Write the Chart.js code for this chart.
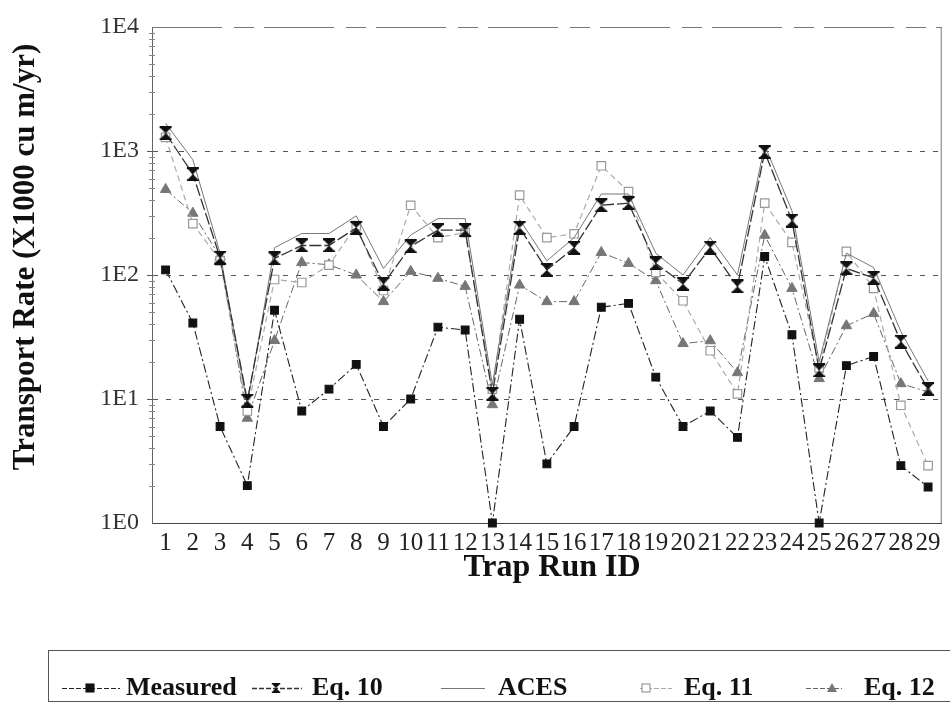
<!DOCTYPE html>
<html>
<head>
<meta charset="utf-8">
<script src="https://cdn.jsdelivr.net/npm/chart.js@4.4.1/dist/chart.umd.min.js"></script>
<style>
html,body{margin:0;padding:0;background:#fff;}
#wrap{width:950px;height:703px;}
</style>
</head>
<body>
<div id="wrap"><canvas id="c" width="950" height="703"></canvas></div>
<script>
const runIds = ['1','2','3','4','5','6','7','8','9','10','11','12','13','14','15','16','17','18','19','20','21','22','23','24','25','26','27','28','29'];
const measured = [110,41,6,2,52,8,12,19,6,10,38,36,1,44,3,6,55,59,15,6,8,4.9,141,33,1,18.6,22,2.9,1.95];
const eq10 = [1390,650,138,9.7,136,173,173,240,85,170,230,230,11,240,110,166,365,380,124,85,166,81,980,275,17,113,95,29,12];
const aces = [1670,850,150,9,166,216,216,300,113,210,285,285,13,280,130,200,450,450,150,100,200,100,1110,330,20,150,115,35,14];
const eq11 = [1290,260,130,8,92,87,120,250,75,365,200,220,12,440,200,215,760,470,105,62,24.5,11,380,183,17.8,155,78,8.9,2.9];
const eq12 = [490,315,140,7,29.6,126,121,100,61,107,94,81,9,83,61,61,152,124,90,28,29.5,16.3,209,78,14.6,39,49,13.3,11.4];
const yTicks = [1,10,100,1000,10000];
const yTickLabels = {1:'1E0',10:'1E1',100:'1E2',1000:'1E3',10000:'1E4'};
const yTitle = 'Transport Rate (X1000 cu m/yr)';
const xTitle = 'Trap Run ID';

function hourglass(){
  const c=document.createElement('canvas');c.width=14;c.height=14;
  const g=c.getContext('2d');g.fillStyle='#111';
  g.fillRect(1,0,12,2);g.fillRect(1,12,12,2);
  g.beginPath();g.moveTo(2,2);g.lineTo(12,2);g.lineTo(7,7);g.closePath();g.fill();
  g.beginPath();g.moveTo(2,12);g.lineTo(12,12);g.lineTo(7,7);g.closePath();g.fill();
  return c;
}
const hg = hourglass();
const SERIF = "'Liberation Serif','DejaVu Serif',serif";

const datasets = [
  {label:'Measured',data:measured,borderColor:'#222',backgroundColor:'#111',borderWidth:1.1,borderDash:[9,3,2,3],
   pointStyle:'rect',pointRadius:5.5,pointBorderColor:'#111',pointBackgroundColor:'#111',order:1},
  {label:'Eq. 10',data:eq10,borderColor:'#333',backgroundColor:'#111',borderWidth:1.3,borderDash:[12,3],
   pointStyle:hg,pointRadius:7,order:2},
  {label:'ACES',data:aces,borderColor:'#777',backgroundColor:'#777',borderWidth:1,borderDash:[],
   pointRadius:0,order:3},
  {label:'Eq. 11',data:eq11,borderColor:'#aaa',backgroundColor:'#fff',borderWidth:1.2,borderDash:[6,4],
   pointStyle:'rect',pointRadius:6,pointBorderColor:'#999',pointBackgroundColor:'#fff',pointBorderWidth:1.2,order:4},
  {label:'Eq. 12',data:eq12,borderColor:'#666',backgroundColor:'#777',borderWidth:1,borderDash:[8,3,2,3],
   pointStyle:'triangle',pointRadius:6,pointBorderColor:'#777',pointBackgroundColor:'#777',order:5}
];
datasets.forEach(d=>{d.tension=0;d.fill=false;d.clip=false;});

const framePlugin = {
  id:'frame',
  beforeDatasetsDraw(chart){
    const a=chart.chartArea,ctx=chart.ctx;
    ctx.save();
    ctx.strokeStyle='#777';ctx.lineWidth=1;
    ctx.setLineDash([70,12,20,10]);
    ctx.beginPath();
    ctx.moveTo(a.left,a.top+0.5);ctx.lineTo(a.right,a.top+0.5);
    ctx.stroke();
    ctx.setLineDash([]);
    ctx.beginPath();
    ctx.moveTo(a.right-0.5,a.top);ctx.lineTo(a.right-0.5,a.bottom);
    ctx.stroke();
    const y=chart.scales.y;
    ctx.strokeStyle='#888';
    for(let e=0;e<4;e++){
      for(let m=2;m<=9;m++){
        const py=Math.round(y.getPixelForValue(m*Math.pow(10,e)))+0.5;
        ctx.beginPath();ctx.moveTo(a.left-3,py);ctx.lineTo(a.left+3,py);ctx.stroke();
      }
    }
    ctx.restore();
  },
  afterDraw(chart){
    const ctx=chart.ctx,a=chart.chartArea;
    ctx.save();
    ctx.fillStyle='#111';
    ctx.font="bold 31px "+SERIF;ctx.textAlign='center';ctx.textBaseline='middle';
    ctx.save();ctx.translate(26,257);ctx.rotate(-Math.PI/2);ctx.fillText(yTitle,0,0);ctx.restore();
    ctx.font="bold 32px "+SERIF;
    ctx.fillText(xTitle,552,568);
    ctx.strokeStyle='#555';ctx.lineWidth=1;
    ctx.strokeRect(48.5,650.5,930,51);
    const cy=688;
    const items=[
      {i:0,x0:62,x1:120,mx:90,tx:126},
      {i:1,x0:252,x1:302,mx:276,tx:312},
      {i:2,x0:441,x1:485,mx:null,tx:498},
      {i:3,x0:640,x1:672,mx:646,tx:684},
      {i:4,x0:806,x1:842,mx:832,tx:864}
    ];
    ctx.font="bold 26px "+SERIF;ctx.textBaseline='middle';ctx.textAlign='left';ctx.fillStyle='#111';
    items.forEach(it=>{
      const d=chart.data.datasets[it.i];
      ctx.save();
      ctx.strokeStyle=d.borderColor;ctx.lineWidth=Math.max(1,d.borderWidth);
      ctx.setLineDash(d.borderDash&&d.borderDash.length?[5,2]:[]);
      ctx.beginPath();ctx.moveTo(it.x0,cy+0.5);ctx.lineTo(it.x1,cy+0.5);ctx.stroke();
      ctx.setLineDash([]);
      if(it.mx!==null){
        if(d.pointStyle==='rect'){
          ctx.fillStyle=d.pointBackgroundColor;ctx.strokeStyle=d.pointBorderColor;
          ctx.fillRect(it.mx-4,cy-4,8,8);ctx.strokeRect(it.mx-4,cy-4,8,8);
        }else if(d.pointStyle==='triangle'){
          ctx.fillStyle=d.pointBackgroundColor;
          ctx.beginPath();ctx.moveTo(it.mx,cy-5);ctx.lineTo(it.mx+5,cy+4);ctx.lineTo(it.mx-5,cy+4);ctx.closePath();ctx.fill();
        }else{
          ctx.drawImage(hg,it.mx-5,cy-5,10,10);
        }
      }
      ctx.restore();
      ctx.fillText(d.label,it.tx,cy);
    });
    ctx.restore();
  }
};

new Chart(document.getElementById('c'),{
  type:'line',
  data:{labels:runIds,datasets:datasets},
  options:{
    responsive:false,animation:false,
    layout:{padding:{left:0,right:1,top:27,bottom:145}},
    plugins:{legend:{display:false},tooltip:{enabled:false}},
    scales:{
      x:{
        offset:true,
        grid:{display:false,drawTicks:true,tickLength:5},
        border:{color:'#444',width:1},
        ticks:{autoSkip:false,maxRotation:0,color:'#222',font:{family:SERIF,size:25},padding:0}
      },
      y:{
        type:'logarithmic',min:1,max:10000,
        afterBuildTicks(s){s.ticks=yTicks.map(v=>({value:v}));},
        afterFit(s){s.width=152;},
        ticks:{color:'#333',font:{family:SERIF,size:24},padding:8,callback:(v)=>yTickLabels[v]||''},
        grid:{color:(c)=>(c.tick&&(c.tick.value===10000||c.tick.value===1))?'rgba(0,0,0,0)':'#555',lineWidth:1,drawTicks:true,tickLength:5},
        border:{color:'#666',width:1,dash:[5,8]}
      }
    }
  },
  plugins:[framePlugin]
});
</script>
</body>
</html>
